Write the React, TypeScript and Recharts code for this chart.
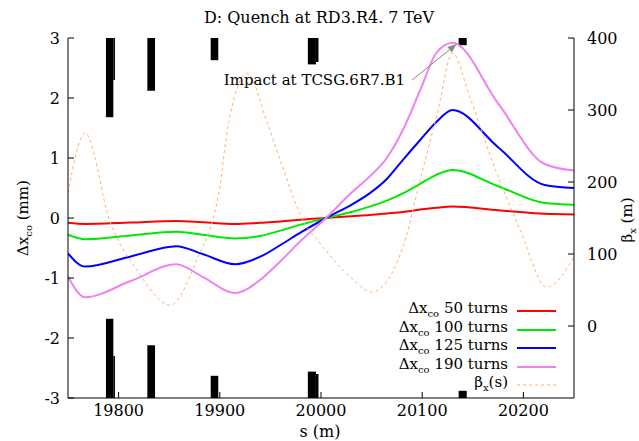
import {
  ComposedChart,
  Line,
  XAxis,
  YAxis,
  ReferenceArea,
  ReferenceLine,
  Legend,
} from 'recharts';

// positions along the ring (m) where the orbit change was sampled
const orbitS = [19750, 19767, 19812, 19857, 19883, 19915, 19940, 19960, 19980, 20005, 20030, 20048, 20065, 20081, 20098, 20114, 20130, 20175, 20221, 20250];
const dx50 = [-0.08, -0.1, -0.075, -0.05, -0.07, -0.1, -0.08, -0.06, -0.03, 0, 0.03, 0.05, 0.075, 0.1, 0.14, 0.17, 0.19, 0.13, 0.07, 0.06];
const dx100 = [-0.28, -0.355, -0.29, -0.23, -0.28, -0.34, -0.3, -0.21, -0.11, 0, 0.1, 0.19, 0.29, 0.41, 0.57, 0.72, 0.8, 0.53, 0.25, 0.22];
const dx125 = [-0.59, -0.81, -0.64, -0.47, -0.6, -0.77, -0.645, -0.45, -0.24, 0, 0.22, 0.41, 0.65, 0.97, 1.3, 1.6, 1.8, 1.18, 0.55, 0.5];
const dx190 = [-0.98, -1.32, -1.05, -0.77, -0.98, -1.25, -1.03, -0.72, -0.38, 0, 0.42, 0.69, 1.0, 1.47, 2.13, 2.75, 2.92, 1.91, 0.9, 0.79];

// beta function
const betaS = [19750, 19767, 19791, 19818, 19851, 19880, 19893, 19900, 19907, 19927, 19946, 19962, 19982, 19999, 20032, 20050, 20081, 20098, 20115, 20130, 20147, 20170, 20197, 20223, 20250];
const betaX = [185, 268, 147, 78, 29, 101, 147, 193, 268, 351, 286, 221, 147, 115, 64, 47, 110, 203, 296, 379, 318, 226, 133, 54, 96];

// aperture (collimator / magnet jaws), half gap in mm
const jawFrom = [19787.5, 19794.8, 19828.4, 19891, 19987, 19995, 20136];
const jawTo = [19794.8, 19796.4, 19836, 19898.5, 19995, 19997.5, 20144];
const jawHalfGap = [1.68, 2.3, 2.12, 2.63, 2.56, 2.6, 2.88];

const sTicks = [19800, 19900, 20000, 20100, 20200];
const dxTicks = [-3, -2, -1, 0, 1, 2, 3];
const betaTicks = [0, 100, 200, 300, 400];

const FONT = '"DejaVu Serif", serif';
const COLORS = {
  t50: '#ff0000',
  t100: '#00e800',
  t125: '#0000ff',
  t190: '#ee82ee',
  beta: '#ffb070',
  arrow: '#888888',
};

const series = [
  { key: 't50', turns: '50', values: dx50, color: COLORS.t50 },
  { key: 't100', turns: '100', values: dx100, color: COLORS.t100 },
  { key: 't125', turns: '125', values: dx125, color: COLORS.t125 },
  { key: 't190', turns: '190', values: dx190, color: COLORS.t190 },
];

const betaData = betaS.map((s, i) => ({ s, v: betaX[i] }));

const txt = { fontFamily: FONT, fontSize: 15, fill: '#000' };
const tickStyle = { fill: '#000', fontSize: 16, fontFamily: FONT };

function ImpactArrow(props: any) {
  const { x1, y1, x2, y2 } = props;
  const ang = Math.atan2(y2 - y1, x2 - x1);
  const len = 9;
  const w = 3.5;
  const bx = x2 - len * Math.cos(ang);
  const by = y2 - len * Math.sin(ang);
  const px = -Math.sin(ang) * w;
  const py = Math.cos(ang) * w;
  return (
    <g>
      <line x1={x1} y1={y1} x2={bx} y2={by} stroke={COLORS.arrow} strokeWidth={1} />
      <polygon points={`${x2},${y2} ${bx + px},${by + py} ${bx - px},${by - py}`} fill={COLORS.arrow} />
      <text x={x1 - 7} y={y1 + 5} textAnchor="end" style={txt}>
        Impact at TCSG.6R7.B1
      </text>
    </g>
  );
}

function renderLegend() {
  const rows = [
    ...series.map((d) => ({ color: d.color, dash: false, label: (
      <span>&Delta;x<sub style={{ fontSize: 10 }}>co</sub> {d.turns} turns</span>
    ) })),
    { color: COLORS.beta, dash: true, label: (
      <span>&beta;<sub style={{ fontSize: 10 }}>x</sub>(s)</span>
    ) },
  ];
  return (
    <div style={{ fontFamily: FONT, fontSize: 15, color: '#000' }}>
      {rows.map((r, i) => (
        <div key={i} style={{ display: 'flex', alignItems: 'center', height: 18.5 }}>
          <div style={{ width: 140, textAlign: 'right', lineHeight: '18px', whiteSpace: 'nowrap' }}>{r.label}</div>
          <svg width={48} height={10} style={{ marginLeft: 9 }}>
            <line x1={0} y1={5} x2={39} y2={5} stroke={r.color} strokeWidth={r.dash ? 1 : 2} strokeDasharray={r.dash ? '3 3' : undefined} />
          </svg>
        </div>
      ))}
    </div>
  );
}

export default function App() {
  return (
    <div style={{ position: 'absolute', left: 0, top: 0, width: 639, height: 441, background: '#fff', fontFamily: FONT }}>
      <ComposedChart width={639} height={441} margin={{ top: 38, right: 25, bottom: 13, left: 28 }} style={{ fontFamily: FONT }}>
        <XAxis
          xAxisId="s"
          dataKey="s"
          type="number"
          domain={[19750, 20250]}
          ticks={sTicks}
          allowDataOverflow
          height={30}
          tick={tickStyle}
          tickSize={-6}
          tickMargin={13}
          stroke="#000"
        />
        <XAxis
          xAxisId="top"
          orientation="top"
          type="number"
          domain={[19750, 20250]}
          ticks={sTicks}
          allowDataOverflow
          height={0}
          tickSize={-6}
          tickFormatter={() => ''}
          stroke="#000"
        />
        <YAxis
          yAxisId="dx"
          type="number"
          domain={[-3, 3]}
          ticks={dxTicks}
          allowDataOverflow
          width={40}
          tick={tickStyle}
          tickSize={-6}
          tickMargin={14}
          stroke="#000"
        />
        <YAxis
          yAxisId="beta"
          orientation="right"
          type="number"
          domain={[-100, 400]}
          ticks={betaTicks}
          allowDataOverflow
          width={40}
          tick={tickStyle}
          tickSize={-6}
          tickMargin={19}
          stroke="#000"
        />

        {jawFrom.map((s, i) => (
          <ReferenceArea key={`up${i}`} xAxisId="s" yAxisId="dx" x1={s} x2={jawTo[i]} y1={jawHalfGap[i]} y2={3}
            fill="#000" fillOpacity={1} stroke="none" ifOverflow="visible" />
        ))}
        {jawFrom.map((s, i) => (
          <ReferenceArea key={`dn${i}`} xAxisId="s" yAxisId="dx" x1={s} x2={jawTo[i]} y1={-3} y2={-jawHalfGap[i]}
            fill="#000" fillOpacity={1} stroke="none" ifOverflow="visible" />
        ))}

        {series.map((d) => (
          <Line
            key={d.key}
            xAxisId="s"
            yAxisId="dx"
            data={orbitS.map((s, i) => ({ s, v: d.values[i] }))}
            dataKey="v"
            name={`dx ${d.turns} turns`}
            type="monotone"
            stroke={d.color}
            strokeWidth={2}
            dot={false}
            activeDot={false}
            isAnimationActive={false}
          />
        ))}
        <Line
          xAxisId="s"
          yAxisId="beta"
          data={betaData}
          dataKey="v"
          name="beta"
          type="monotone"
          stroke={COLORS.beta}
          strokeWidth={1}
          strokeDasharray="3 3"
          dot={false}
          activeDot={false}
          isAnimationActive={false}
        />

        <ReferenceLine
          xAxisId="s"
          yAxisId="dx"
          segment={[{ x: 20090, y: 2.3 }, { x: 20134, y: 2.9 }]}
          ifOverflow="visible"
          shape={ImpactArrow}
        />

        <Legend
          content={renderLegend}
          layout="horizontal"
          verticalAlign="middle"
          align="center"
          wrapperStyle={{ left: 368, top: 302, width: 200 }}
        />

        <text x={319} y={23} textAnchor="middle" style={{ ...txt, fontSize: 16 }}>
          D: Quench at RD3.R4. 7 TeV
        </text>
        <text x={320} y={437} textAnchor="middle" style={{ ...txt, fontSize: 16 }}>
          s (m)
        </text>
        <text transform="translate(28,218) rotate(-90)" textAnchor="middle" style={txt}>
          &Delta;x<tspan fontSize={10} dy={4}>co</tspan><tspan dy={-4}> (mm)</tspan>
        </text>
        <text transform="translate(632,220) rotate(-90)" textAnchor="middle" style={txt}>
          &beta;<tspan fontSize={10} dy={4}>x</tspan><tspan dy={-4}> (m)</tspan>
        </text>
      </ComposedChart>
    </div>
  );
}
